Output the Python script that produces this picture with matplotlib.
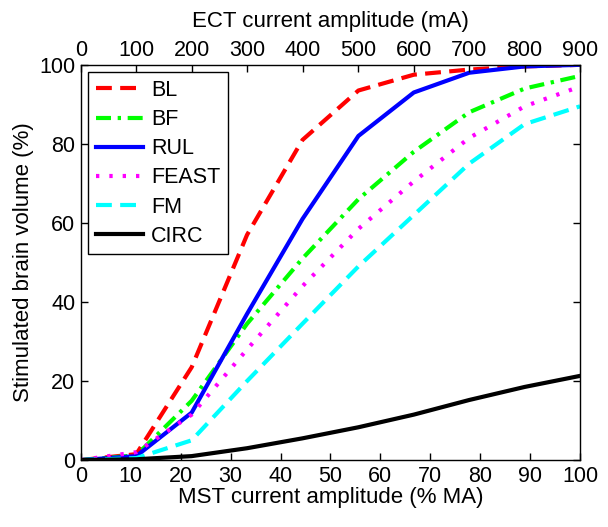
import matplotlib
matplotlib.use("Agg")
import matplotlib.pyplot as plt

plt.rcParams['font.family'] = ['Liberation Sans', 'DejaVu Sans']

mst = [0, 11.1, 22.2, 33.3, 44.4, 55.6, 66.7, 77.8, 88.9, 100]
bl = [0, 1.5, 23.5, 57, 81, 93.5, 97.5, 98.8, 99.6, 100]
bf = [0, 1.2, 15, 34.5, 51, 66, 78, 88, 94, 97.2]
rul = [0, 1.0, 12, 37, 61, 82, 93, 98, 99.6, 100]
feast = [0, 2.0, 11.5, 28, 44, 58.5, 70.5, 81.5, 89.5, 94.5]
fm = [0, 0.5, 5, 20, 34.5, 49, 62, 75, 85, 89.5]
circ = [0, 0.2, 1.0, 3.0, 5.5, 8.3, 11.5, 15.2, 18.5, 21.3]

series = [
    ("BL", bl, "#ff0000", (0, (3.8, 2.0))),
    ("BF", bf, "#00ff00", (0, (3.6, 1.6, 0.8, 1.6))),
    ("RUL", rul, "#0000ff", "-"),
    ("FEAST", feast, "#ff00ff", (0, (0.8, 2.4))),
    ("FM", fm, "#00ffff", (0, (3.8, 2.0))),
    ("CIRC", circ, "#000000", "-"),
]

fig = plt.figure(figsize=(6.08, 5.27), dpi=100)
ax = fig.add_axes([0.133, 0.127, 0.821, 0.750])
for name, vals, color, ls in series:
    ax.plot(mst, vals, color=color, linestyle=ls, linewidth=3, label=name)

ax.set_xlim(0, 100)
ax.set_ylim(0, 100)
ax.set_xticks(range(0, 101, 10))
ax.set_yticks(range(0, 101, 20))
ax.tick_params(direction='in', length=5, labelsize=15.5, right=True, width=1, pad=4)
ax.set_xlabel("MST current amplitude (% MA)", fontsize=16, labelpad=0)
ax.set_ylabel("Stimulated brain volume (%)", fontsize=16, labelpad=4)
for s in ax.spines.values():
    s.set_linewidth(1)
    s.set_color('#333333')

ax2 = ax.twiny()
ax2.set_xlim(0, 900)
ax2.set_xticks(range(0, 901, 100))
ax2.tick_params(direction='in', length=5, labelsize=15.5, width=1, pad=3)
ax2.set_xlabel("ECT current amplitude (mA)", fontsize=16, labelpad=9)

leg = ax.legend(loc='upper left', fontsize=15.5, handlelength=2.2, fancybox=False,
                edgecolor='black', framealpha=1, borderpad=0.35, labelspacing=0.38,
                handletextpad=0.35, borderaxespad=0.35)
leg.get_frame().set_linewidth(1)

fig.savefig("out.png", dpi=100)
